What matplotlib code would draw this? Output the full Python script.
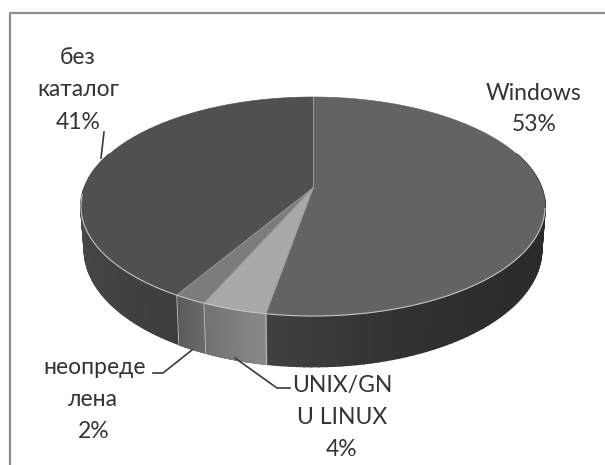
import numpy as np
import matplotlib
matplotlib.use("Agg")
import matplotlib.pyplot as plt
from matplotlib.colors import to_rgb
from matplotlib.patches import Polygon

# data
categories = ["Windows", "UNIX/GNU LINUX", "неопределена", "без каталог"]
shares = [52.75, 3.85, 1.9, 41.5]   # drawn slice sizes
label_lines = [["Windows", "53%"], ["UNIX/GN", "U LINUX", "4%"], ["неопреде", "лена", "2%"], ["без", "каталог", "41%"]]

# style
top_colors = ["#636364", "#a9a9ab", "#7c7c7d", "#505052"]
side_colors = [("#2c2b2c", "#403f41"), ("#8a8a8a", "#727273"), ("#6a6a6b", "#5c5c5d"), ("#3e3e40", "#4c4c4e")]
side_power = [4.0, 1.0, 1.0, 1.0]
label_pos = [[(534, 93), (534, 124)],
             [(342, 385), (342, 417), (342, 449)],
             [(95, 367), (93, 399), (94, 431)],
             [(78, 58), (78, 90), (78, 122)]]
leaders = [[(290, 388), (277, 388), (235, 358)],
           [(153, 373), (163, 373), (192, 350)],
           [(104, 132), (101, 158)]]

fig = plt.figure(figsize=(6.05, 4.65), dpi=100, facecolor="white")
ax = fig.add_axes([0, 0, 1, 1])
ax.set_xlim(0, 605)
ax.set_ylim(465, 0)
ax.axis("off")

XC, YC = 313.0, 188.0
A, B, P = 228.7, 106.4, 0.169
D = 42.0


def rim(theta, lower=False):
    u, v = np.sin(theta), -np.cos(theta)
    w = 1 - P * v
    x = A * u / w
    y = B * v / w
    if lower:
        return XC + 0.985 * x, YC + y + D / w
    return XC + x, YC + y


edges = np.concatenate([[0], np.cumsum(shares)]) / np.sum(shares) * 2 * np.pi

# side wall
for i in range(len(shares)):
    c0, c1 = np.array(to_rgb(side_colors[i][0])), np.array(to_rgb(side_colors[i][1]))
    ts = np.linspace(edges[i], edges[i + 1], 120)
    ts = ts[-np.cos(ts) > -0.35]
    n = len(ts) - 1
    for j in range(n):
        a, b = ts[j], ts[j + 1]
        f = (j / max(n - 1, 1)) ** side_power[i]
        col = c0 + (c1 - c0) * f
        pts = [rim(a), rim(b), rim(b, True), rim(a, True)]
        ax.add_patch(Polygon(pts, closed=True, facecolor=col, edgecolor=col, lw=1.2,
                             antialiased=True, zorder=2))

# light seams on the wall
for e in edges[1:4]:
    x0, y0 = rim(e)
    x1, y1 = rim(e, True)
    ax.plot([x0, x1], [y0, y1], color="#b8b8b8", lw=0.7, zorder=3)

# top face
for i in range(len(shares)):
    ts = np.linspace(edges[i], edges[i + 1], 240)
    xs, ys = rim(ts)
    pts = np.column_stack([np.r_[XC, xs], np.r_[YC, ys]])
    ax.add_patch(Polygon(pts, closed=True, facecolor=top_colors[i], edgecolor=top_colors[i], lw=0.4, zorder=4))

for e in edges[:4]:
    x0, y0 = rim(e)
    ax.plot([XC, x0], [YC, y0], color="#9c9c9c", lw=0.7, zorder=5)

ts = np.linspace(np.pi * 0.56, np.pi * 1.48, 200)
xs, ys = rim(ts)
ax.plot(xs, ys, color="#c4c4c4", lw=0.8, zorder=5)

# leaders
for pts in leaders:
    p = np.array(pts)
    ax.plot(p[:, 0], p[:, 1], color="#3a3a3a", lw=1.2, zorder=6)

# labels
for lines, positions in zip(label_lines, label_pos):
    for line, (x, y) in zip(lines, positions):
        ax.text(x, y, line, ha="center", va="center", fontsize=16.5, family="Lato",
                color="#333333", zorder=7)

# frame
ax.plot([9.5, 9.5, 605], [465, 13.5, 13.5], color="#8e8e8e", lw=1.6, zorder=8)

fig.savefig("out.png", dpi=100)
